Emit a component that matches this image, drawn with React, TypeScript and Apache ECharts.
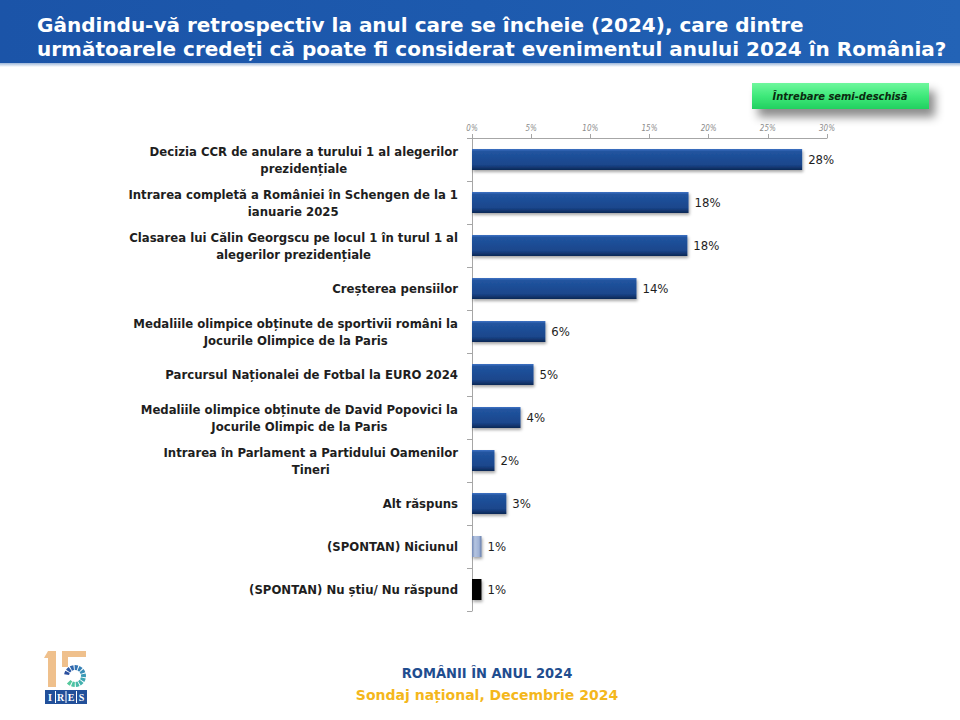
import React, { useEffect, useRef } from "react";
import * as echarts from "echarts";

const categories: string[] = [
  "Decizia CCR de anulare a turului 1 al alegerilor\nprezidențiale",
  "Intrarea completă a României în Schengen de la 1\nianuarie 2025",
  "Clasarea lui Călin Georgscu pe locul 1 în turul 1 al\nalegerilor prezidențiale",
  "Creșterea pensiilor",
  "Medaliile olimpice obținute de sportivii români la\nJocurile Olimpice de la Paris",
  "Parcursul Naționalei de Fotbal la EURO 2024",
  "Medaliile olimpice obținute de David Popovici la\nJocurile Olimpic de la Paris",
  "Intrarea în Parlament a Partidului Oamenilor\nTineri",
  "Alt răspuns",
  "(SPONTAN) Niciunul",
  "(SPONTAN) Nu știu/ Nu răspund",
];
const values: number[] = [27.9, 18.3, 18.2, 13.9, 6.2, 5.2, 4.1, 1.9, 2.9, 0.8, 0.8];
const axisMin = 0;
const axisMax = 30;
const axisStep = 5;

const titleText =
  "Gândindu-vă retrospectiv la anul care se încheie (2024), care dintre\nurmătoarele credeți că poate fi considerat evenimentul anului 2024 în România?";
const badgeText = "Întrebare semi-deschisă";
const footer1 = "ROMÂNII ÎN ANUL 2024";
const footer2 = "Sondaj național, Decembrie 2024";

const SANS = "'DejaVu Sans', sans-serif";
const COND = "'DejaVu Sans Condensed', 'DejaVu Sans', sans-serif";

const blueBar = new echarts.graphic.LinearGradient(0, 0, 0, 1, [
  { offset: 0, color: "#3f72c4" },
  { offset: 0.12, color: "#21549f" },
  { offset: 0.75, color: "#1a468c" },
  { offset: 1, color: "#0c2755" },
]);
const lightBar = new echarts.graphic.LinearGradient(0, 0, 1, 0, [
  { offset: 0, color: "#6f86b3" },
  { offset: 0.3, color: "#b4c4e0" },
  { offset: 0.75, color: "#9fb2d6" },
  { offset: 1, color: "#5e76a6" },
]);

const ringColors = [
  "#2b4f9e", "#2d5aa6", "#2f66ad", "#3273b3", "#3580b6", "#388db7",
  "#3b9ab6", "#3ea6b3", "#42b1ae", "#47bba8", "#4dc3a2", "#55c99c",
];

function buildLogo(): any[] {
  const els: any[] = [];
  const tan = "#efc08c";
  els.push({ type: "rect", shape: { x: 48, y: 651, width: 8, height: 36 }, style: { fill: tan } });
  els.push({ type: "polygon", shape: { points: [[48, 651], [56, 651], [48, 658], [44, 658]] }, style: { fill: tan } });
  els.push({ type: "rect", shape: { x: 62, y: 651, width: 24, height: 6 }, style: { fill: tan } });
  els.push({ type: "rect", shape: { x: 62, y: 651, width: 6, height: 16 }, style: { fill: tan } });
  const n = ringColors.length;
  const start = -Math.PI * 0.95;
  const span = Math.PI * 1.75;
  for (let i = 0; i < n; i++) {
    const a0 = start + (span / n) * i;
    const a1 = a0 + (span / n) * 0.75;
    els.push({
      type: "sector",
      shape: { cx: 75, cy: 676, r0: 6, r: 11, startAngle: a0, endAngle: a1 },
      style: { fill: ringColors[i] },
    });
  }
  els.push({ type: "rect", shape: { x: 45, y: 690, width: 42, height: 14 }, style: { fill: "#22509a" } });
  const letters = ["I", "R", "E", "S"];
  letters.forEach((l, i) => {
    els.push({
      type: "text",
      x: 50 + i * 10.5,
      y: 697,
      style: {
        text: l, fill: "#ffffff", font: "bold 10px 'Liberation Serif', serif",
        textAlign: "center", textVerticalAlign: "middle",
      },
    });
    if (i > 0) {
      els.push({ type: "line", shape: { x1: 45 + i * 10.5, y1: 691, x2: 45 + i * 10.5, y2: 703 }, style: { stroke: "#ffffff", lineWidth: 1 } });
    }
  });
  return els;
}

export default function App() {
  const ref = useRef<HTMLDivElement>(null);
  useEffect(() => {
    if (!ref.current) return;
    const chart = echarts.init(ref.current, null, { renderer: "svg" });
    const seriesData = values.map((v, i) => {
      let color: any = blueBar;
      if (i === values.length - 2) color = lightBar;
      if (i === values.length - 1) color = "#050505";
      return { value: v, itemStyle: { color } };
    });
    chart.setOption({
      animation: false,
      backgroundColor: "#ffffff",
      grid: { left: 472, top: 138, width: 355, height: 473 },
      xAxis: {
        type: "value",
        position: "top",
        min: axisMin,
        max: axisMax,
        interval: axisStep,
        axisLine: { show: true, lineStyle: { color: "#a6a6a6" } },
        axisTick: { show: true, length: 4, lineStyle: { color: "#a6a6a6" } },
        splitLine: { show: false },
        axisLabel: {
          formatter: "{value}%",
          fontSize: 8,
          fontStyle: "italic",
          color: "#8c8c8c",
          fontFamily: COND,
          margin: 6,
        },
      },
      yAxis: {
        type: "category",
        inverse: true,
        data: categories,
        axisLine: { show: true, lineStyle: { color: "#a6a6a6" } },
        axisTick: { show: true, length: 5, lineStyle: { color: "#a6a6a6" } },
        axisLabel: {
          align: "right",
          margin: 14,
          formatter: (v: string) => v.split("\n").map((l) => `{c|${l}}`).join("\n"),
          rich: {
            c: {
              align: "center",
              fontSize: 13,
              fontWeight: "bold",
              fontFamily: COND,
              color: "#1e1e1e",
              lineHeight: 17,
            },
          },
        },
      },
      series: [
        {
          type: "bar",
          data: seriesData,
          barWidth: 21,
          itemStyle: {
            shadowColor: "rgba(0,0,0,0.35)",
            shadowBlur: 3,
            shadowOffsetX: 1,
            shadowOffsetY: 2,
          },
          label: {
            show: true,
            position: "right",
            distance: 6,
            formatter: (p: any) => `${Math.round(p.value)}%`,
            fontSize: 13,
            color: "#1e1e1e",
            fontFamily: COND,
          },
        },
      ],
      graphic: [
        {
          type: "rect",
          shape: { x: 0, y: 0, width: 960, height: 63 },
          style: {
            fill: new echarts.graphic.LinearGradient(0, 0, 1, 0, [
              { offset: 0, color: "#1b54a8" },
              { offset: 0.5, color: "#1d5aae" },
              { offset: 1, color: "#2363b6" },
            ]),
          },
        },
        {
          type: "rect",
          shape: { x: 0, y: 63, width: 960, height: 4 },
          style: {
            fill: new echarts.graphic.LinearGradient(0, 0, 0, 1, [
              { offset: 0, color: "#9db6d8" },
              { offset: 1, color: "#ffffff" },
            ]),
          },
        },
        {
          type: "text",
          x: 37,
          y: 13,
          style: {
            text: titleText,
            fill: "#ffffff",
            font: `bold 20px ${SANS}`,
            lineHeight: 24,
          },
        },
        {
          type: "rect",
          shape: { x: 752, y: 83, width: 177, height: 26 },
          style: {
            fill: new echarts.graphic.LinearGradient(0, 0, 0, 1, [
              { offset: 0, color: "#6ff79d" },
              { offset: 0.5, color: "#3ee97a" },
              { offset: 1, color: "#22d060" },
            ]),
            shadowColor: "rgba(0,0,0,0.45)",
            shadowBlur: 10,
            shadowOffsetX: 6,
            shadowOffsetY: 8,
          },
        },
        {
          type: "text",
          x: 840,
          y: 96,
          style: {
            text: badgeText,
            fill: "#0b2a10",
            font: `italic bold 11px ${COND}`,
            textAlign: "center",
            textVerticalAlign: "middle",
          },
        },
        {
          type: "text",
          x: 487,
          y: 673,
          style: {
            text: footer1,
            fill: "#1f4d8f",
            font: `bold 14.5px ${COND}`,
            textAlign: "center",
            textVerticalAlign: "middle",
          },
        },
        {
          type: "text",
          x: 487,
          y: 695,
          style: {
            text: footer2,
            fill: "#f4b71c",
            font: `bold 14px ${SANS}`,
            textAlign: "center",
            textVerticalAlign: "middle",
          },
        },
        ...buildLogo(),
      ],
    });
    return () => chart.dispose();
  }, []);
  return (
    <div
      ref={ref}
      style={{ position: "fixed", left: 0, top: 0, width: 960, height: 720 }}
    />
  );
}
